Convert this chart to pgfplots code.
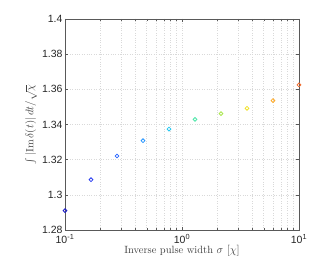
\documentclass[border=0pt]{standalone}
\usepackage{fontspec}
\usepackage{pgfplots}
\pgfplotsset{compat=1.18}
\newfontfamily\helv{Liberation Sans}
\definecolor{c1}{RGB}{30,30,200}
\definecolor{c2}{RGB}{40,60,240}
\definecolor{c3}{RGB}{40,100,255}
\definecolor{c4}{RGB}{40,150,255}
\definecolor{c5}{RGB}{40,200,240}
\definecolor{c6}{RGB}{80,230,170}
\definecolor{c7}{RGB}{170,230,80}
\definecolor{c8}{RGB}{240,225,40}
\definecolor{c9}{RGB}{255,170,40}
\definecolor{c10}{RGB}{240,110,50}
\begin{document}
\begin{tikzpicture}
\path[use as bounding box] (0,0) rectangle (330pt,259pt);
\begin{axis}[
  at={(65pt,29pt)}, anchor=south west,
  scale only axis, width=234pt, height=211pt,
  xmode=log, xmin=0.1, xmax=10, ymin=1.28, ymax=1.4,
  ytick={1.28,1.3,1.32,1.34,1.36,1.38,1.4},
  yticklabels={1.28,1.3,1.32,1.34,1.36,1.38,1.4},
  xtick={0.1,1,10},
  xticklabels={10\textsuperscript{-1},10\textsuperscript{0},10\textsuperscript{1}},
  tick label style={font=\helv\fontsize{10.5}{12}\selectfont, text=black!85},
  xticklabel style={yshift=-1pt},
  yticklabel style={xshift=1pt},
  grid=both,
  major grid style={dotted, gray!30, line width=0.6pt},
  minor grid style={dotted, gray!30, line width=0.6pt},
  minor y tick num=0,
  axis line style={gray!70!black, line width=0.7pt},
  tick style={gray!70!black, line width=0.5pt},
  tick align=inside,
  major tick length=3pt, minor tick length=1.8pt,
  xlabel={Inverse pulse width $\sigma$ $[\chi]$},
  ylabel={$\int|\mathrm{Im}\,\delta(t)|\,dt/\sqrt{\chi}$},
  label style={font=\fontsize{10.5}{12}\selectfont, text=black!75},
  xlabel style={yshift=5pt},
  ylabel style={yshift=-2pt},
  clip=false,
]
\pgfplotsset{every axis plot/.append style={only marks, mark=o, mark size=1.9pt, line width=0.8pt}}
\addplot[c1] coordinates {(0.1,1.2910)};
\addplot[c2] coordinates {(0.16681,1.3086)};
\addplot[c3] coordinates {(0.27826,1.3221)};
\addplot[c4] coordinates {(0.46416,1.3308)};
\addplot[c5] coordinates {(0.77426,1.3374)};
\addplot[c6] coordinates {(1.29155,1.3429)};
\addplot[c7] coordinates {(2.15443,1.3462)};
\addplot[c8] coordinates {(3.59381,1.3492)};
\addplot[c9] coordinates {(5.99484,1.3536)};
\addplot[c10] coordinates {(10,1.3625)};
\end{axis}
\end{tikzpicture}
\end{document}
